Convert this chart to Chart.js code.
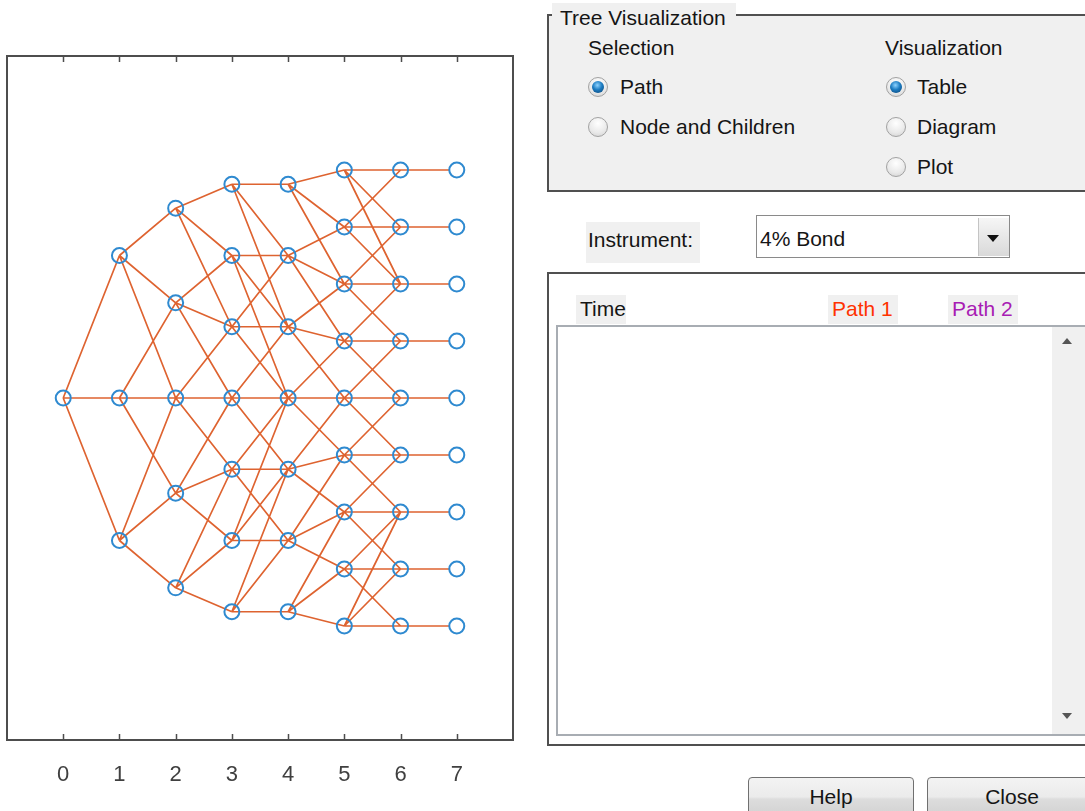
<!DOCTYPE html>
<html>
<head>
<meta charset="utf-8">
<script src="https://cdn.jsdelivr.net/npm/chart.js@4/dist/chart.umd.min.js"></script>
<style>
  body { margin: 0; width: 1085px; height: 811px; overflow: hidden; position: relative; background: #fff;
         font-family: "Liberation Sans", Arial, sans-serif; font-size: 21px; color: #151515; }
  .abs { position: absolute; }
  .txt { position: absolute; line-height: 24px; white-space: nowrap; }
  .radio { position: absolute; width: 20px; height: 20px; border-radius: 50%; box-sizing: border-box;
           border: 1px solid #a2a2a2; background: radial-gradient(circle at 50% 30%, #ffffff 0%, #e9e9e9 60%, #cfcfcf 100%); }
  .radio.on::after { content: ''; position: absolute; left: 3px; top: 3px; width: 12px; height: 12px; border-radius: 50%;
           background: radial-gradient(circle at 45% 35%, #8fd3ff 0%, #1c7cc2 45%, #0a3f6e 100%); }
  .btn { position: absolute; top: 777px; height: 44px; box-sizing: border-box; border: 1px solid #707070; border-radius: 4px;
         background: linear-gradient(#f3f3f3 0%, #ebebeb 45%, #dddddd 50%, #cfcfcf 100%); text-align: center; line-height: 38px; }
  .tri-up { position: absolute; width: 0; height: 0; border-left: 5px solid transparent; border-right: 5px solid transparent; border-bottom: 6px solid #555; }
  .tri-down { position: absolute; width: 0; height: 0; border-left: 5px solid transparent; border-right: 5px solid transparent; border-top: 6px solid #555; }
</style>
</head>
<body>
<canvas id="tree-chart" width="540" height="811" class="abs" style="left:0;top:0;"></canvas>

<!-- Tree Visualization group -->
<div class="abs" style="left:547px;top:14px;width:560px;height:178px;box-sizing:border-box;border:2px solid #505050;background:#f0f0f0;"></div>
<div class="abs" style="left:552px;top:3px;width:184px;height:26px;background:#f0f0f0;"></div>
<div class="txt" style="left:560px;top:6px;">Tree Visualization</div>
<div class="txt" style="left:588px;top:36px;">Selection</div>
<div class="txt" style="left:885px;top:36px;">Visualization</div>
<div class="radio on" style="left:588px;top:77px;"></div>
<div class="txt" style="left:620px;top:75px;">Path</div>
<div class="radio" style="left:588px;top:117px;"></div>
<div class="txt" style="left:620px;top:115px;">Node and Children</div>
<div class="radio on" style="left:886px;top:77px;"></div>
<div class="txt" style="left:917px;top:75px;">Table</div>
<div class="radio" style="left:886px;top:117px;"></div>
<div class="txt" style="left:917px;top:115px;">Diagram</div>
<div class="radio" style="left:886px;top:157px;"></div>
<div class="txt" style="left:917px;top:155px;">Plot</div>

<!-- Instrument selector -->
<div class="abs" style="left:586px;top:222px;width:114px;height:41px;background:#f0f0f0;"></div>
<div class="txt" style="left:588px;top:228px;">Instrument:</div>
<div class="abs" style="left:756px;top:215px;width:254px;height:43px;box-sizing:border-box;border:1px solid #8a8a8a;background:#fff;"></div>
<div class="txt" style="left:760px;top:227px;">4% Bond</div>
<div class="abs" style="left:978px;top:218px;width:30px;height:38px;background:linear-gradient(#f6f6f6,#d9d9d9);border-left:1px solid #c4c4c4;"></div>
<div class="abs" style="left:987px;top:235px;width:0;height:0;border-left:6px solid transparent;border-right:6px solid transparent;border-top:7px solid #111;"></div>

<!-- Table panel -->
<div class="abs" style="left:547px;top:272px;width:560px;height:474px;box-sizing:border-box;border:2px solid #505050;background:#fff;"></div>
<div class="abs" style="left:576px;top:295px;width:50px;height:29px;background:#f0f0f0;"></div>
<div class="txt" style="left:580px;top:297px;">Time</div>
<div class="abs" style="left:828px;top:295px;width:70px;height:29px;background:#f0f0f0;"></div>
<div class="txt" style="left:832px;top:297px;color:#ff3300;">Path 1</div>
<div class="abs" style="left:948px;top:295px;width:70px;height:29px;background:#f0f0f0;"></div>
<div class="txt" style="left:952px;top:297px;color:#a81cb4;">Path 2</div>
<div class="abs" style="left:556px;top:325px;width:560px;height:411px;box-sizing:border-box;border:2px solid #a8adb3;background:#fff;"></div>
<div class="abs" style="left:1052px;top:327px;width:40px;height:407px;background:#f0f0f0;"></div>
<div class="tri-up" style="left:1062px;top:338px;"></div>
<div class="tri-down" style="left:1062px;top:713px;"></div>

<!-- Buttons -->
<div class="btn" style="left:748px;width:166px;">Help</div>
<div class="btn" style="left:927px;width:170px;">Close</div>

<script>
// time steps of the tree and the axis labels
const steps = [0, 1, 2, 3, 4, 5, 6, 7];
const tickLabels = ['0', '1', '2', '3', '4', '5', '6', '7'];

// vertical position of the nodes at each step, top to bottom
const levels0 = [0];
const levels1 = [2.5, 0, -2.5];
const levels2 = [3.33, 1.67, 0, -1.67, -3.33];
const levels3 = [3.75, 2.5, 1.25, 0, -1.25, -2.5, -3.75];
const levels4 = [3.75, 2.5, 1.25, 0, -1.25, -2.5, -3.75];
const levels5 = [4, 3, 2, 1, 0, -1, -2, -3, -4];
const levels6 = [4, 3, 2, 1, 0, -1, -2, -3, -4];
const levels7 = [4, 3, 2, 1, 0, -1, -2, -3, -4];

// middle child of every node on the next step (children are mid-1, mid, mid+1)
const connect0 = [1];
const connect1 = [1, 2, 3];
const connect2 = [1, 2, 3, 4, 5];
const connect3 = [1, 2, 2, 3, 4, 4, 5];
const connect4 = [1, 2, 3, 4, 5, 6, 7];
const connect5 = [1, 1, 2, 3, 4, 5, 6, 7, 7];
// last step has a single branch straight across
const connect6 = [0, 1, 2, 3, 4, 5, 6, 7, 8];

const levels = [levels0, levels1, levels2, levels3, levels4, levels5, levels6, levels7];
const connects = [connect0, connect1, connect2, connect3, connect4, connect5];

// Build node points and branch segments (segments split with null y)
const nodePoints = [];
const nodeFill = [];
levels.forEach((ys, t) => {
    ys.forEach(y => {
        nodePoints.push({ x: steps[t], y: y });
        nodeFill.push(t === steps.length - 1 ? '#ffffff' : 'rgba(0,0,0,0)');
    });
});

const branchPoints = [];
connects.forEach((con, t) => {
    con.forEach((mid, i) => {
        [mid - 1, mid, mid + 1].forEach(c => {
            branchPoints.push({ x: steps[t], y: levels[t][i] });
            branchPoints.push({ x: steps[t + 1], y: levels[t + 1][c] });
            branchPoints.push({ x: steps[t + 1], y: null });
        });
    });
});
connect6.forEach((c, i) => {
    branchPoints.push({ x: steps[6], y: levels6[i] });
    branchPoints.push({ x: steps[7], y: levels7[c] });
    branchPoints.push({ x: steps[7], y: null });
});

// Box around the axes with inward tick marks on top and bottom
const framePlugin = {
    id: 'frame',
    afterDraw(chart) {
        const { ctx, chartArea: a, scales } = chart;
        ctx.save();
        ctx.strokeStyle = '#4d4d4d';
        ctx.lineWidth = 2;
        ctx.strokeRect(a.left, a.top, a.right - a.left, a.bottom - a.top);
        ctx.lineWidth = 1.5;
        steps.forEach(v => {
            const px = Math.round(scales.x.getPixelForValue(v)) + 0.5;
            ctx.beginPath();
            ctx.moveTo(px, a.top);
            ctx.lineTo(px, a.top + 6);
            ctx.moveTo(px, a.bottom);
            ctx.lineTo(px, a.bottom - 6);
            ctx.stroke();
        });
        ctx.restore();
    }
};

const ctx = document.getElementById('tree-chart').getContext('2d');
new Chart(ctx, {
    type: 'scatter',
    data: {
        datasets: [
            {
                label: 'Nodes',
                data: nodePoints,
                pointStyle: 'circle',
                pointRadius: 7.5,
                pointBorderWidth: 2,
                pointBorderColor: '#2f8ad0',
                pointBackgroundColor: nodeFill,
                showLine: false
            },
            {
                label: 'Branches',
                data: branchPoints,
                showLine: true,
                spanGaps: false,
                borderColor: '#de6330',
                borderWidth: 1.7,
                pointRadius: 0
            }
        ]
    },
    options: {
        responsive: false,
        animation: false,
        devicePixelRatio: 1,
        layout: { autoPadding: false, padding: { left: 7, right: 27, top: 56, bottom: 25 } },
        scales: {
            x: {
                type: 'linear',
                min: -1,
                max: 8,
                afterBuildTicks: axis => { axis.ticks = steps.map(v => ({ value: v })); },
                afterFit: axis => { axis.height = 46; },
                ticks: {
                    callback: (v, i) => tickLabels[i],
                    font: { family: '"Liberation Sans", Arial, sans-serif', size: 22 },
                    color: '#404040',
                    padding: 14,
                    maxRotation: 0
                },
                grid: { display: false },
                border: { display: false }
            },
            y: {
                display: false,
                min: -6,
                max: 6
            }
        },
        plugins: {
            legend: { display: false },
            tooltip: { enabled: false }
        }
    },
    plugins: [framePlugin]
});
</script>
</body>
</html>
